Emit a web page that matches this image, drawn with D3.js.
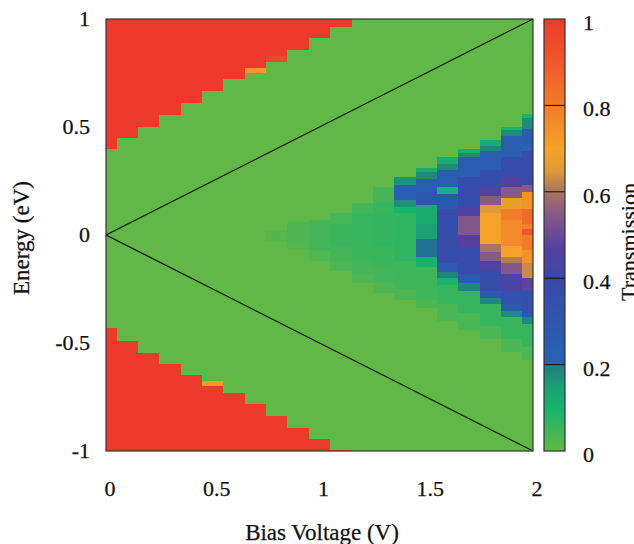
<!DOCTYPE html>
<html><head><meta charset="utf-8">
<script src="https://cdn.jsdelivr.net/npm/d3@7"></script>
<style>
body{margin:0;background:#fff}
svg{display:block}
text{font-family:"Liberation Serif","Times New Roman",serif;fill:#111;stroke:#111;stroke-width:0.25px}
</style>
</head><body><svg id="c" width="634" height="544"></svg>
<script>
// ---- data ----
const voltages = [0,0.1,0.2,0.3,0.4,0.5,0.6,0.7,0.8,0.9,1.0,1.1,1.2,1.3,1.4,1.5,1.6,1.7,1.8,1.9,2.0];
const xTicks = [0,0.5,1,1.5,2];
const yTicks = [-1,-0.5,0,0.5,1];
const cTicks = [0,0.2,0.4,0.6,0.8,1];
// lower energy edge of the upper full-transmission (red) block, per voltage column
const redTop = [0.40,0.45,0.50,0.555,0.61,0.665,0.72,0.775,0.80,0.855,0.91,0.965];
// upper energy edge of the lower red block, per voltage column
const redBottom = [-0.432,-0.49,-0.544,-0.598,-0.647,-0.70,-0.73,-0.783,-0.838,-0.892,-0.946,-0.995];
// isolated cells: [V, Etop, Ebottom, T]
const spotCells = [[0.7,0.775,0.75,0.72],[0.5,-0.678,-0.70,0.72],[0.8,0.83,0.80,0.95]];
// central transmission bands: [V, Etop, Ebottom, T]
const bands = [
 [0.8,0.02,-0.03,0.02],
 [0.9,0.06,-0.03,0.03],[0.9,-0.03,-0.07,0.02],
 [1.0,0.07,-0.07,0.045],[1.0,-0.07,-0.12,0.025],
 [1.1,0.10,0.05,0.04],[1.1,0.05,-0.05,0.055],[1.1,-0.05,-0.12,0.045],[1.1,-0.12,-0.165,0.03],
 [1.2,0.15,0.10,0.045],[1.2,0.10,-0.02,0.06],[1.2,-0.02,-0.12,0.055],[1.2,-0.12,-0.18,0.045],[1.2,-0.18,-0.22,0.03],
 [1.3,0.22,0.15,0.045],[1.3,0.15,0.10,0.06],[1.3,0.10,-0.05,0.065],[1.3,-0.05,-0.15,0.055],[1.3,-0.15,-0.22,0.045],[1.3,-0.22,-0.27,0.03],
 [1.4,0.27,0.23,0.17],[1.4,0.23,0.16,0.23],[1.4,0.16,0.13,0.17],[1.4,0.13,0.10,0.1],[1.4,0.10,-0.12,0.07],[1.4,-0.12,-0.25,0.05],[1.4,-0.25,-0.30,0.03],
 [1.5,0.31,0.29,0.12],[1.5,0.29,0.26,0.18],[1.5,0.26,0.20,0.25],[1.5,0.20,0.14,0.3],[1.5,0.14,0.05,0.12],[1.5,0.05,-0.02,0.15],[1.5,-0.02,-0.10,0.2],[1.5,-0.10,-0.15,0.11],[1.5,-0.15,-0.30,0.05],[1.5,-0.30,-0.34,0.03],
 [1.6,0.36,0.33,0.12],[1.6,0.33,0.30,0.18],[1.6,0.30,0.22,0.25],[1.6,0.22,0.19,0.1],[1.6,0.19,0.12,0.28],[1.6,0.12,-0.13,0.37],[1.6,-0.13,-0.17,0.27],[1.6,-0.17,-0.20,0.19],[1.6,-0.20,-0.23,0.1],[1.6,-0.23,-0.32,0.06],[1.6,-0.32,-0.40,0.035],
 [1.7,0.40,0.38,0.12],[1.7,0.38,0.36,0.18],[1.7,0.36,0.27,0.25],[1.7,0.27,0.13,0.37],[1.7,0.13,0.09,0.45],[1.7,0.09,0.00,0.54],[1.7,0.00,-0.06,0.47],[1.7,-0.06,-0.18,0.38],[1.7,-0.18,-0.22,0.27],[1.7,-0.22,-0.26,0.18],[1.7,-0.26,-0.36,0.06],[1.7,-0.36,-0.44,0.035],
 [1.8,0.44,0.41,0.12],[1.8,0.41,0.39,0.18],[1.8,0.39,0.30,0.25],[1.8,0.30,0.22,0.37],[1.8,0.22,0.18,0.46],[1.8,0.18,0.14,0.55],[1.8,0.14,0.10,0.65],[1.8,0.10,-0.04,0.7],[1.8,-0.04,-0.08,0.6],[1.8,-0.08,-0.12,0.55],[1.8,-0.12,-0.16,0.46],[1.8,-0.16,-0.26,0.38],[1.8,-0.26,-0.29,0.27],[1.8,-0.29,-0.32,0.18],[1.8,-0.32,-0.42,0.06],[1.8,-0.42,-0.48,0.035],
 [1.9,0.50,0.485,0.1],[1.9,0.485,0.46,0.18],[1.9,0.46,0.38,0.25],[1.9,0.38,0.36,0.21],[1.9,0.36,0.27,0.37],[1.9,0.27,0.22,0.46],[1.9,0.22,0.17,0.55],[1.9,0.17,0.12,0.67],[1.9,0.12,0.07,0.8],[1.9,0.07,-0.05,0.76],[1.9,-0.05,-0.10,0.7],[1.9,-0.10,-0.13,0.61],[1.9,-0.13,-0.18,0.54],[1.9,-0.18,-0.26,0.44],[1.9,-0.26,-0.32,0.34],[1.9,-0.32,-0.35,0.26],[1.9,-0.35,-0.38,0.18],[1.9,-0.38,-0.48,0.06],[1.9,-0.48,-0.54,0.035],
 [2.0,0.56,0.54,0.1],[2.0,0.54,0.49,0.18],[2.0,0.49,0.41,0.26],[2.0,0.41,0.39,0.21],[2.0,0.39,0.23,0.38],[2.0,0.23,0.20,0.55],[2.0,0.20,0.12,0.74],[2.0,0.12,0.05,0.85],[2.0,0.05,0.03,0.78],[2.0,0.03,0.00,0.9],[2.0,0.00,-0.07,0.8],[2.0,-0.07,-0.13,0.74],[2.0,-0.13,-0.20,0.63],[2.0,-0.20,-0.26,0.48],[2.0,-0.26,-0.36,0.35],[2.0,-0.36,-0.38,0.26],[2.0,-0.38,-0.41,0.18],[2.0,-0.41,-0.52,0.06],[2.0,-0.52,-0.58,0.035]
];
// palette stops
const palStops = [0,0.05,0.10,0.15,0.195,0.205,0.30,0.40,0.47,0.55,0.60,0.65,0.70,0.80,0.90,1.0];
const palColors = ["#62b846","#3fb55a","#16b46c","#1b9f74","#21807e","#2762b2","#2d56ae","#3a48a8","#5540a0","#8a5a86","#a87560","#e09a38","#f5a22a","#f27b2a","#f0582b","#ee3a2c"];

// ---- drawing ----
const svg = d3.select("#c");
const X0=106, X1=533, Y0=19, Y1=451;
const x = d3.scaleLinear().domain([0,2]).range([X0,X1]);
const y = d3.scaleLinear().domain([-1,1]).range([Y1,Y0]);
const color = d3.scaleLinear().domain(palStops).range(palColors).interpolate(d3.interpolateRgb).clamp(true);
const halfStep = 0.05;
const cx0 = v => x(Math.max(0, v-halfStep));
const cx1 = v => x(Math.min(2, v+halfStep));

const plot = svg.append("g").attr("shape-rendering","crispEdges");
plot.append("rect").attr("x",X0).attr("y",Y0).attr("width",X1-X0).attr("height",Y1-Y0).attr("fill",color(0));

plot.selectAll("rect.rt").data(redTop).join("rect").attr("class","rt")
  .attr("x",(d,i)=>cx0(voltages[i])).attr("width",(d,i)=>cx1(voltages[i])-cx0(voltages[i]))
  .attr("y",y(1)).attr("height",d=>y(d)-y(1)).attr("fill",color(1));
plot.selectAll("rect.rb").data(redBottom).join("rect").attr("class","rb")
  .attr("x",(d,i)=>cx0(voltages[i])).attr("width",(d,i)=>cx1(voltages[i])-cx0(voltages[i]))
  .attr("y",d=>y(d)).attr("height",d=>y(-1)-y(d)).attr("fill",color(1));
plot.selectAll("rect.sp").data(spotCells).join("rect").attr("class","sp")
  .attr("x",d=>cx0(d[0])).attr("width",d=>cx1(d[0])-cx0(d[0]))
  .attr("y",d=>y(d[1])).attr("height",d=>y(d[2])-y(d[1])).attr("fill",d=>color(d[3]));
plot.selectAll("rect.bd").data(bands).join("rect").attr("class","bd")
  .attr("x",d=>cx0(d[0])).attr("width",d=>cx1(d[0])-cx0(d[0]))
  .attr("y",d=>y(d[1])).attr("height",d=>y(d[2])-y(d[1])).attr("fill",d=>color(d[3]));

// bias window lines
const line = d3.line().x(d=>x(d[0])).y(d=>y(d[1]));
svg.append("path").attr("d",line([[0,0],[2,1]])).attr("stroke","#111").attr("stroke-width",1.3).attr("fill","none");
svg.append("path").attr("d",line([[0,0],[2,-1]])).attr("stroke","#111").attr("stroke-width",1.3).attr("fill","none");

// frame
svg.append("rect").attr("x",X0).attr("y",Y0).attr("width",X1-X0).attr("height",Y1-Y0)
  .attr("fill","none").attr("stroke","#333").attr("stroke-width",1.2);

// tick labels
svg.selectAll("text.xt").data(xTicks).join("text").attr("class","xt")
  .attr("x",d=>x(d)+4).attr("y",496).attr("text-anchor","middle").attr("font-size",22)
  .text(d=>d3.format("~g")(d));
svg.selectAll("text.yt").data(yTicks).join("text").attr("class","yt")
  .attr("x",90).attr("y",d=>y(d)+7).attr("text-anchor","end").attr("font-size",22)
  .text(d=>d3.format("~g")(d).replace("−","-"));

// axis titles
svg.append("text").attr("x",322).attr("y",540).attr("text-anchor","middle").attr("font-size",23).text("Bias Voltage (V)");
svg.append("text").attr("transform","translate(29,238) rotate(-90)").attr("text-anchor","middle").attr("font-size",23).text("Energy (eV)");

// colorbar
const CB0=544, CB1=565;
const cy = d3.scaleLinear().domain([0,1]).range([Y1,Y0]);
const grad = svg.append("defs").append("linearGradient").attr("id","cbg")
  .attr("x1",0).attr("y1",1).attr("x2",0).attr("y2",0);
grad.selectAll("stop").data(palStops).join("stop")
  .attr("offset",d=>d).attr("stop-color",(d,i)=>palColors[i]);
svg.append("rect").attr("x",CB0).attr("y",Y0).attr("width",CB1-CB0).attr("height",Y1-Y0).attr("fill","url(#cbg)");
svg.selectAll("line.cl").data([0.2,0.4,0.6,0.8]).join("line").attr("class","cl")
  .attr("x1",CB0).attr("x2",CB1).attr("y1",d=>cy(d)).attr("y2",d=>cy(d)).attr("stroke","#111").attr("stroke-width",1);
svg.append("rect").attr("x",CB0).attr("y",Y0).attr("width",CB1-CB0).attr("height",Y1-Y0)
  .attr("fill","none").attr("stroke","#333").attr("stroke-width",1.2);
svg.selectAll("text.ct").data(cTicks).join("text").attr("class","ct")
  .attr("x",583).attr("y",d=>cy(d)+11).attr("font-size",22)
  .text(d=>d3.format("~g")(d));
svg.append("text").attr("transform","translate(636,242) rotate(-90)").attr("text-anchor","middle").attr("font-size",22).text("Transmission");
</script>
</body></html>
